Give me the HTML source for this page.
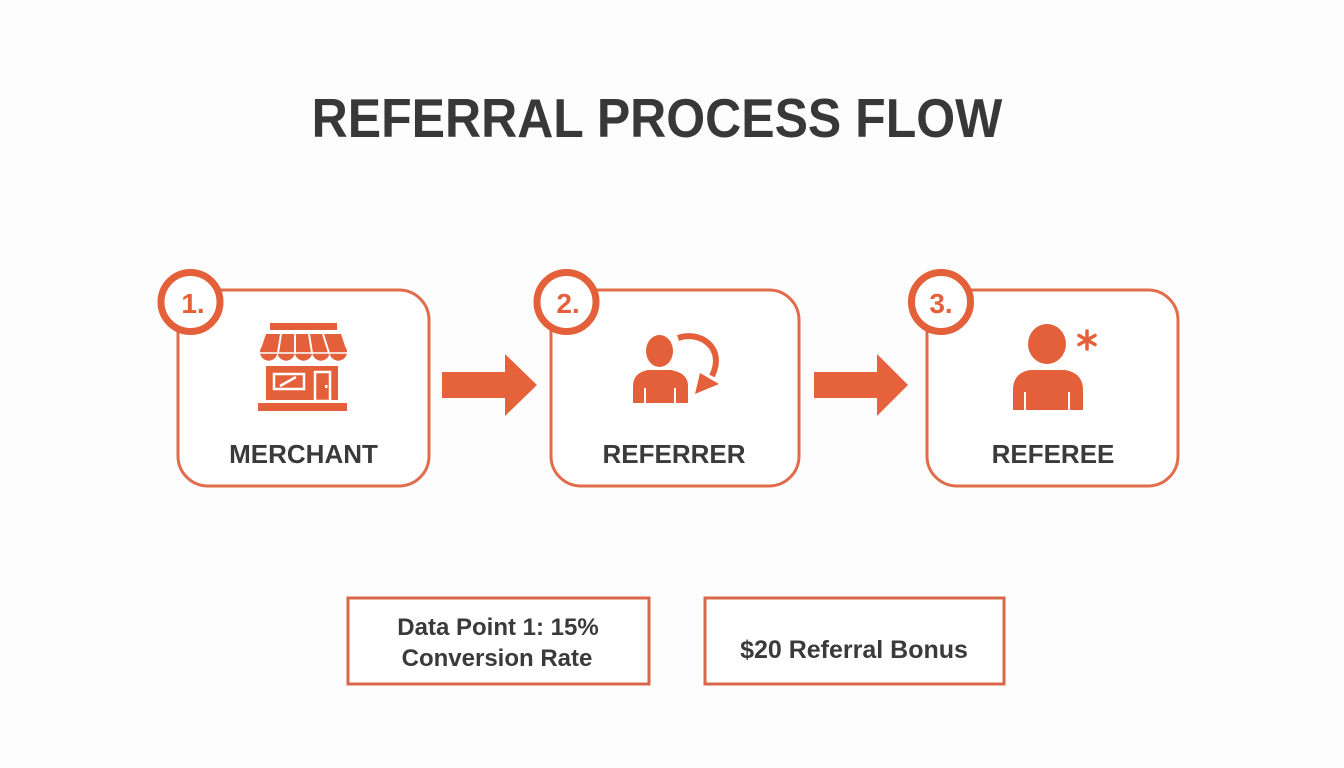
<!DOCTYPE html>
<html>
<head>
<meta charset="utf-8">
<style>
  html,body{margin:0;padding:0;background:#fdfdfd;}
  body{width:1344px;height:768px;overflow:hidden;}
  svg{display:block;}
  text{font-family:"Liberation Sans", Arial, sans-serif;font-weight:bold;}
</style>
</head>
<body>
<svg width="1344" height="768" viewBox="0 0 1344 768" xmlns="http://www.w3.org/2000/svg">
  <rect x="0" y="0" width="1344" height="768" fill="#fdfdfd"/>

  <!-- Title -->
  <text x="657" y="137" text-anchor="middle" font-size="50" fill="#383838" transform="translate(0,137) scale(1,1.1) translate(0,-137)">REFERRAL PROCESS FLOW</text>

  <!-- Boxes -->
  <rect x="178" y="290" width="251" height="196" rx="30" ry="30" fill="#ffffff" stroke="#e06c4a" stroke-width="3"/>
  <rect x="551" y="290" width="248" height="196" rx="30" ry="30" fill="#ffffff" stroke="#e06c4a" stroke-width="3"/>
  <rect x="927" y="290" width="251" height="196" rx="30" ry="30" fill="#ffffff" stroke="#e06c4a" stroke-width="3"/>

  <!-- Number circles -->
  <circle cx="190.5" cy="302" r="29.5" fill="#ffffff" stroke="#e3603a" stroke-width="7"/>
  <text x="193" y="313" text-anchor="middle" font-size="28" fill="#e3603a">1.</text>
  <circle cx="566.5" cy="302" r="29.5" fill="#ffffff" stroke="#e3603a" stroke-width="7"/>
  <text x="568" y="313" text-anchor="middle" font-size="28" fill="#e3603a">2.</text>
  <circle cx="941" cy="302" r="29.5" fill="#ffffff" stroke="#e3603a" stroke-width="7"/>
  <text x="941" y="313" text-anchor="middle" font-size="28" fill="#e3603a">3.</text>

  <!-- Arrows -->
  <polygon points="442,372 505,372 505,354 537,385 505,416 505,398 442,398" fill="#e5623a"/>
  <polygon points="814,372 877,372 877,354 908,385 877,416 877,398 814,398" fill="#e5623a"/>

  <!-- Store icon -->
  <g fill="#e3603a">
    <rect x="270" y="323" width="67" height="7"/>
    <!-- awning -->
    <path d="M266,334 L341,334 L347,352 L260,352 Z"/>
    <circle cx="268.7" cy="352" r="8.7"/>
    <circle cx="286.1" cy="352" r="8.7"/>
    <circle cx="303.5" cy="352" r="8.7"/>
    <circle cx="320.9" cy="352" r="8.7"/>
    <circle cx="338.3" cy="352" r="8.7"/>
    <!-- body -->
    <rect x="266" y="366" width="72" height="34"/>
    <rect x="258" y="403" width="89" height="8"/>
  </g>
  <!-- awning stripes -->
  <g stroke="#ffffff" stroke-width="2">
    <line x1="281" y1="334" x2="278" y2="353"/>
    <line x1="295" y1="334" x2="295" y2="353"/>
    <line x1="309" y1="334" x2="312" y2="353"/>
    <line x1="323" y1="334" x2="329" y2="353"/>
    <line x1="260" y1="353" x2="347" y2="353" stroke-width="1.5"/>
  </g>
  <rect x="260" y="360" width="87" height="4" fill="#ffffff" opacity="0.0"/>
  <!-- window and door -->
  <rect x="274" y="374" width="30" height="15" fill="none" stroke="#ffffff" stroke-width="2.5"/>
  <line x1="280" y1="386" x2="296" y2="377" stroke="#ffffff" stroke-width="2.5"/>
  <rect x="315" y="372" width="15" height="29" fill="none" stroke="#ffffff" stroke-width="2.5"/>
  <rect x="325" y="385" width="2.5" height="3" fill="#ffffff"/>

  <!-- Referrer icon -->
  <g fill="#e3603a">
    <ellipse cx="659.5" cy="351" rx="13.5" ry="16"/>
    <path d="M633,403 L633,386 Q633,373 648,370 L671,370 Q688,373 688,386 L688,403 Z"/>
  </g>
  <g stroke="#ffffff" stroke-width="2">
    <line x1="645" y1="388" x2="645" y2="404"/>
    <line x1="675" y1="388" x2="675" y2="404"/>
  </g>
  <path d="M678,338 C700,330 726,348 712,376" fill="none" stroke="#e3603a" stroke-width="6"/>
  <polygon points="700,373 719,384 695,394" fill="#e3603a"/>

  <!-- Referee icon -->
  <g fill="#e3603a">
    <ellipse cx="1047" cy="344" rx="19" ry="20"/>
    <path d="M1013,410 L1013,390 Q1013,373 1030,370 L1065,370 Q1083,373 1083,390 L1083,410 Z"/>
  </g>
  <g stroke="#ffffff" stroke-width="2">
    <line x1="1025" y1="392" x2="1025" y2="411"/>
    <line x1="1069" y1="392" x2="1069" y2="411"/>
  </g>
  <g stroke="#e3603a" stroke-width="3.5" stroke-linecap="round">
    <line x1="1087" y1="331" x2="1087" y2="349"/>
    <line x1="1079" y1="335.5" x2="1095" y2="344.5"/>
    <line x1="1079" y1="344.5" x2="1095" y2="335.5"/>
  </g>

  <!-- Box labels -->
  <text x="303.5" y="463" text-anchor="middle" font-size="26" fill="#3a3a3a">MERCHANT</text>
  <text x="674" y="463" text-anchor="middle" font-size="26" fill="#3a3a3a">REFERRER</text>
  <text x="1053" y="463" text-anchor="middle" font-size="26" fill="#3a3a3a">REFEREE</text>

  <!-- Bottom boxes -->
  <rect x="348" y="598" width="301" height="86" fill="#ffffff" stroke="#d9684a" stroke-width="3"/>
  <rect x="705" y="598" width="299" height="86" fill="#ffffff" stroke="#d9684a" stroke-width="3"/>
  <text x="498" y="635" text-anchor="middle" font-size="24" fill="#3a3a3a">Data Point 1: 15%</text>
  <text x="497" y="666" text-anchor="middle" font-size="24" fill="#3a3a3a">Conversion Rate</text>
  <text x="854" y="658" text-anchor="middle" font-size="25" fill="#3a3a3a">$20 Referral Bonus</text>
</svg>
</body>
</html>
